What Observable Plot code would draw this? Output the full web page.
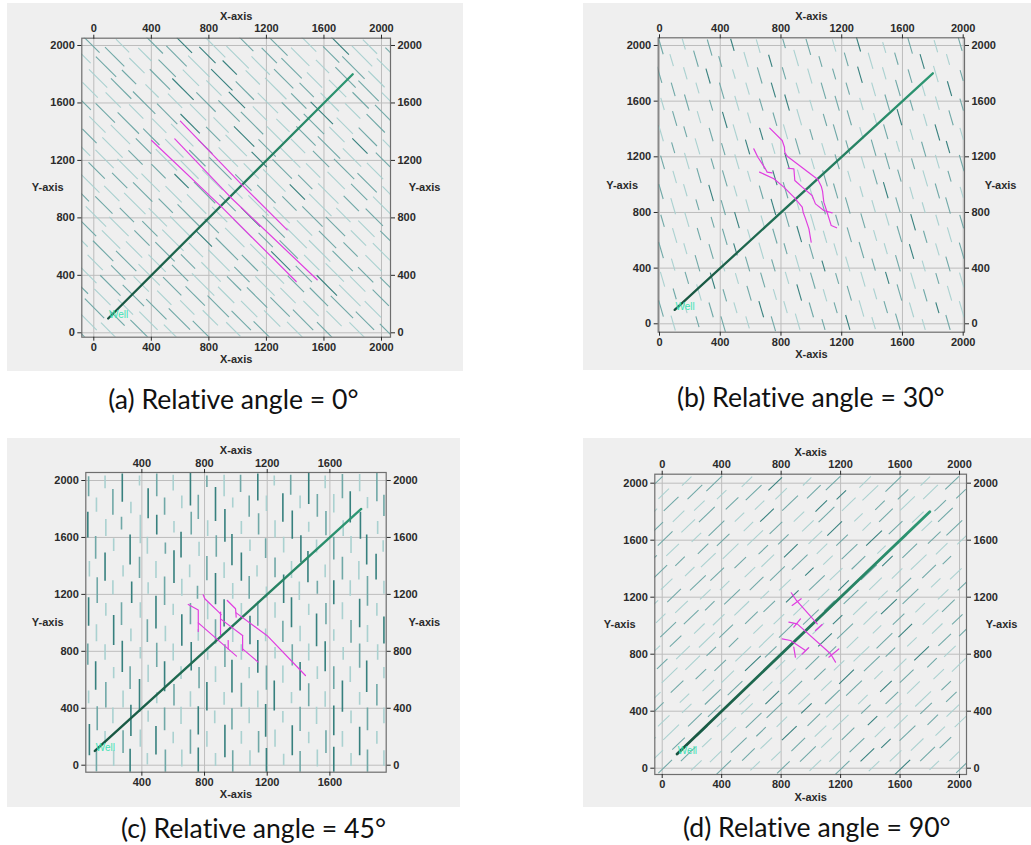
<!DOCTYPE html>
<html>
<head>
<meta charset="utf-8">
<script src="https://cdn.jsdelivr.net/npm/d3@7"></script>
<script src="https://cdn.jsdelivr.net/npm/@observablehq/plot@0.6"></script>
<style>
  html, body { margin: 0; padding: 0; background: #fff; }
  body { width: 1031px; height: 845px; position: relative; overflow: hidden; }
  .panel { position: absolute; }
  .cap {
    position: absolute; white-space: nowrap; font-family: Lato, "Open Sans", sans-serif;
    font-size: 26px; color: #111; transform-origin: 50% 50%; font-variant-ligatures: none;
  }
</style>
</head>
<body>
<script>
// ---------------------------------------------------------------------------
// Natural-fracture maps around a horizontal well, four fracture orientations.
// Each natural fracture: centre x, centre y, length, aperture class (1..3).
// ---------------------------------------------------------------------------
const TICKS = [0, 400, 800, 1200, 1600, 2000];
const TICKS_C = [400, 800, 1200, 1600];
const CAPTIONS = ["(a) Relative angle = 0°", "(b) Relative angle = 30°", "(c) Relative angle = 45°", "(d) Relative angle = 90°"];
// fracture strike (degrees from the x-axis) in each map
const STRIKES = [135, 105, 90, 45];
// well trajectory
const WELL = [[100, 100], [1800, 1800]];

const FRACTURES_A = [
  -20,2010,170,2, 200,1998,130,1, 410,2015,200,2, 630,2002,150,3, 840,1992,210,1, 1060,2010,140,2, 1280,1996,190,2, 1490,2014,160,1, 1710,2000,180,3, 1920,1992,140,1,
  -75,1930,150,1, 145,1922,190,2, 355,1938,130,1, 575,1926,200,2, 790,1934,160,3, 1000,1918,220,1, 1220,1930,150,2, 1435,1922,180,1, 1650,1938,160,2, 1865,1926,200,1, 2080,1932,150,2,
  85,1852,200,2, 300,1860,150,1, 510,1842,170,2, 730,1856,210,1, 945,1846,140,3, 1160,1860,180,1, 1375,1842,200,2, 1590,1854,130,1, 1805,1846,220,2, 2020,1858,150,1,
  30,1770,180,1, 245,1780,140,2, 460,1764,200,2, 675,1776,160,1, 890,1762,210,3, 1105,1778,140,1, 1320,1768,190,2, 1535,1760,150,1, 1750,1778,200,2, 1965,1766,160,1,
  -25,1690,150,1, 190,1700,200,2, 405,1684,130,1, 620,1696,210,3, 835,1704,150,1, 1050,1686,180,2, 1265,1700,210,1, 1480,1690,140,2, 1695,1700,170,1, 1910,1684,200,2,
  -80,1612,170,2, 135,1620,150,1, 350,1602,220,2, 565,1616,140,1, 780,1606,190,2, 995,1620,160,3, 1210,1600,200,1, 1425,1614,150,2, 1640,1606,180,1, 1855,1618,160,2, 2070,1604,190,1,
  80,1530,190,2, 295,1540,140,1, 510,1524,200,2, 725,1536,160,1, 940,1544,210,2, 1155,1526,140,1, 1370,1540,180,2, 1585,1530,220,3, 1800,1544,150,1, 2015,1526,170,2,
  25,1450,160,1, 240,1460,210,2, 455,1442,140,1, 670,1456,190,3, 885,1446,150,1, 1100,1460,220,2, 1315,1444,130,1, 1530,1454,200,2, 1745,1442,160,1, 1960,1458,180,2,
  -30,1370,140,2, 185,1380,190,1, 400,1364,160,2, 615,1376,220,1, 830,1384,140,2, 1045,1366,200,3, 1260,1380,160,1, 1475,1370,190,2, 1690,1380,150,1, 1905,1364,180,2,
  -85,1292,170,1, 130,1290,200,1, 345,1300,150,2, 560,1284,180,1, 775,1296,140,2, 990,1304,210,1, 1205,1286,170,2, 1420,1300,140,1, 1635,1290,220,2, 1850,1300,150,3, 2065,1288,160,1,
  75,1210,180,1, 290,1220,140,2, 505,1204,210,1, 720,1216,160,2, 935,1224,190,1, 1150,1206,150,3, 1365,1220,200,1, 1580,1210,160,2, 1795,1220,180,1, 2010,1204,140,2,
  20,1130,160,2, 235,1140,200,1, 450,1124,140,2, 665,1136,180,1, 880,1144,220,2, 1095,1126,150,1, 1310,1140,190,2, 1525,1130,140,1, 1740,1140,200,2, 1955,1126,160,1,
  -35,1050,210,1, 180,1060,150,2, 395,1044,180,1, 610,1056,140,3, 825,1064,200,1, 1040,1046,160,2, 1255,1060,220,1, 1470,1050,140,2, 1685,1060,170,1, 1900,1044,190,2,
  -90,972,160,2, 125,970,150,1, 340,980,190,2, 555,964,160,1, 770,976,210,2, 985,984,140,1, 1200,966,180,2, 1415,980,150,3, 1630,970,200,1, 1845,980,160,2, 2060,966,150,1,
  70,890,170,2, 285,900,210,1, 500,884,140,2, 715,896,190,1, 930,904,160,2, 1145,886,200,1, 1360,900,140,2, 1575,890,220,1, 1790,900,150,2, 2005,884,180,1,
  15,810,200,1, 230,820,140,2, 445,804,180,1, 660,816,220,2, 875,824,150,1, 1090,806,190,3, 1305,820,160,1, 1520,810,200,2, 1735,820,140,1, 1950,804,170,2,
  -40,730,160,2, 175,740,190,1, 390,724,150,2, 605,736,210,1, 820,744,140,2, 1035,726,180,1, 1250,740,220,2, 1465,730,150,1, 1680,740,190,2, 1895,724,160,1,
  -95,652,150,1, 120,650,180,1, 335,660,150,2, 550,644,210,1, 765,656,160,3, 980,664,190,1, 1195,646,140,2, 1410,660,200,1, 1625,650,170,2, 1840,660,150,1, 2055,646,180,2,
  65,570,200,2, 280,580,160,1, 495,564,190,2, 710,576,140,1, 925,584,220,2, 1140,566,150,1, 1355,580,180,2, 1570,570,210,1, 1785,580,140,2, 2000,564,170,1,
  10,490,150,1, 225,500,200,2, 440,484,170,1, 655,496,140,2, 870,504,210,1, 1085,486,160,2, 1300,500,190,3, 1515,490,150,1, 1730,500,200,2, 1945,484,160,1,
  -45,410,180,1, 170,420,140,2, 385,404,210,1, 600,416,160,2, 815,424,190,1, 1030,406,150,2, 1245,420,220,1, 1460,410,160,2, 1675,420,180,1, 1890,404,150,2,
  -100,332,170,2, 115,330,200,2, 330,340,150,1, 545,324,180,2, 760,336,220,1, 975,344,140,2, 1190,326,190,1, 1405,340,160,2, 1620,330,200,3, 1835,340,150,1, 2050,326,170,2,
  60,250,160,1, 275,260,210,2, 490,244,140,1, 705,256,190,2, 920,264,160,1, 1135,246,200,2, 1350,260,150,1, 1565,250,180,2, 1780,260,210,1, 1995,244,160,2,
  5,170,190,2, 220,180,150,1, 435,164,200,2, 650,176,140,1, 865,184,210,2, 1080,166,160,1, 1295,180,190,2, 1510,170,150,1, 1725,180,220,2, 1940,164,160,1,
  -50,90,200,1, 165,100,140,2, 380,84,180,1, 595,96,210,2, 810,104,150,1, 1025,86,190,2, 1240,100,160,1, 1455,90,200,2, 1670,100,150,1, 1885,84,180,2,
  -105,12,160,2, 110,10,170,1, 325,20,200,2, 540,4,150,1, 755,16,190,2, 970,24,140,1, 1185,6,210,2, 1400,20,160,1, 1615,10,180,2, 1830,20,150,1, 2045,6,160,2
];

const FRACTURES_B = [
  10,1990,110,2, 160,2010,80,1, 330,1985,120,2, 480,2005,90,3, 650,1995,100,1, 820,2015,70,2, 980,1990,120,2, 1150,2000,90,1, 1310,2010,110,3, 1480,1985,80,1, 1650,2000,120,2, 1820,1995,90,1, 1980,2010,100,2,
  80,1895,90,1, 240,1905,120,2, 400,1885,80,2, 570,1900,110,1, 730,1890,90,3, 900,1910,120,1, 1060,1885,80,2, 1230,1900,100,2, 1390,1890,120,1, 1560,1905,90,2, 1730,1885,110,3, 1900,1900,80,1,
  0,1790,120,2, 170,1800,90,1, 320,1780,110,3, 490,1795,70,1, 660,1785,120,2, 820,1800,90,2, 990,1780,110,1, 1150,1795,80,2, 1320,1790,120,3, 1480,1800,90,1, 1650,1780,100,2, 1820,1795,120,1, 1990,1785,80,2,
  90,1685,100,2, 250,1695,80,1, 410,1675,120,2, 580,1690,90,1, 750,1680,110,3, 910,1695,80,1, 1080,1675,120,2, 1240,1690,90,2, 1410,1685,100,1, 1570,1695,120,2, 1740,1675,80,1, 1910,1690,110,3,
  20,1580,90,1, 180,1590,120,2, 340,1570,80,2, 510,1585,110,1, 670,1575,90,2, 840,1590,120,3, 1000,1570,80,1, 1170,1585,110,2, 1330,1580,90,1, 1500,1590,120,2, 1660,1570,80,2, 1830,1585,100,1, 1990,1575,90,2,
  100,1475,110,2, 260,1485,90,1, 430,1465,120,3, 590,1480,80,1, 760,1470,100,2, 920,1485,120,1, 1090,1465,90,2, 1250,1480,110,2, 1420,1475,80,1, 1580,1485,120,3, 1750,1465,90,1, 1920,1480,110,2,
  10,1370,120,1, 170,1380,80,2, 340,1360,100,2, 500,1375,120,1, 670,1365,90,3, 830,1380,110,1, 1000,1360,80,2, 1160,1375,120,2, 1330,1370,90,1, 1490,1380,110,2, 1660,1360,80,1, 1830,1375,120,3, 1990,1365,90,1,
  90,1265,80,2, 250,1275,120,1, 420,1255,90,2, 580,1270,110,3, 750,1260,80,1, 910,1275,120,2, 1080,1255,90,1, 1240,1270,100,2, 1410,1265,120,2, 1570,1275,80,1, 1740,1255,110,2, 1900,1270,90,3,
  20,1160,100,2, 180,1170,120,1, 350,1150,80,2, 510,1165,110,1, 680,1155,90,2, 840,1170,120,3, 1010,1150,80,1, 1170,1165,110,2, 1340,1160,90,1, 1500,1170,120,2, 1670,1150,80,2, 1830,1165,100,1, 1990,1155,120,2,
  100,1055,90,1, 260,1065,110,2, 430,1045,120,2, 590,1060,80,1, 760,1050,110,3, 920,1065,90,1, 1090,1045,120,2, 1250,1060,80,1, 1420,1055,110,2, 1580,1065,90,2, 1750,1045,120,1, 1910,1060,80,2,
  10,950,110,2, 170,960,90,1, 340,940,120,3, 500,955,80,1, 670,945,100,2, 830,960,120,2, 1000,940,90,1, 1160,955,110,2, 1330,950,80,1, 1490,960,120,3, 1660,940,90,1, 1830,955,110,2, 1990,945,80,1,
  90,845,120,1, 250,855,80,2, 420,835,110,2, 580,850,90,1, 750,840,120,3, 910,855,80,1, 1080,835,100,2, 1240,850,120,2, 1410,845,90,1, 1570,855,110,2, 1740,835,80,1, 1900,850,120,2,
  20,740,90,2, 180,750,110,1, 350,730,80,2, 510,745,120,3, 680,735,90,1, 840,750,110,2, 1010,730,120,1, 1170,745,80,2, 1340,740,110,2, 1500,750,90,1, 1670,730,120,3, 1830,745,80,1, 1990,735,100,2,
  100,635,110,1, 260,645,90,2, 430,625,120,2, 590,640,80,1, 760,630,110,2, 920,645,120,3, 1090,625,90,1, 1250,640,110,2, 1420,635,80,1, 1580,645,120,2, 1750,625,90,2, 1910,640,110,1,
  10,530,120,2, 170,540,80,1, 340,520,110,2, 500,535,90,3, 670,525,120,1, 830,540,80,2, 1000,520,110,2, 1160,535,90,1, 1330,530,120,2, 1490,540,80,1, 1660,520,110,3, 1830,535,90,1, 1990,525,120,2,
  90,425,90,1, 250,435,120,2, 420,415,80,1, 580,430,110,2, 750,420,90,2, 910,435,120,1, 1080,415,80,3, 1240,430,110,1, 1410,425,90,2, 1570,435,120,2, 1740,415,80,1, 1900,430,110,2,
  20,320,110,1, 180,330,90,2, 350,310,120,3, 510,325,80,1, 680,315,110,2, 840,330,90,1, 1010,310,120,2, 1170,325,80,2, 1340,320,110,1, 1500,330,90,3, 1670,310,120,1, 1830,325,80,2, 1990,315,110,1,
  100,215,80,2, 260,225,120,1, 430,205,90,2, 590,220,110,2, 760,210,80,1, 920,225,120,3, 1090,205,90,1, 1250,220,110,2, 1420,215,80,1, 1580,225,120,2, 1750,205,90,2, 1910,220,110,1,
  10,110,120,2, 170,120,90,1, 340,100,110,2, 500,115,80,1, 670,105,120,3, 830,120,90,1, 1000,100,110,2, 1160,115,80,2, 1330,110,120,1, 1490,120,90,2, 1660,100,110,1, 1830,115,80,3, 1990,105,120,1,
  90,5,110,1, 250,15,80,2, 420,-5,120,2, 580,10,90,1, 750,0,110,2, 910,15,120,1, 1080,-5,80,2, 1240,10,110,3, 1410,5,90,1, 1570,15,120,2, 1740,-5,80,1, 1900,10,110,2
];

const FRACTURES_C = [
  60,1960,140,2, 165,1990,90,1, 275,1950,200,3, 385,2000,70,1, 495,1970,160,2, 600,1985,110,1, 710,1940,230,3, 815,1995,80,2, 925,1965,150,1, 1030,1980,120,2, 1140,1955,190,3, 1245,2000,70,1, 1350,1970,140,2, 1465,1945,220,3, 1570,1990,90,1, 1680,1960,170,2, 1790,1985,120,1, 1900,1955,200,2,
  110,1830,100,1, 215,1850,180,2, 330,1810,80,1, 440,1840,210,3, 545,1820,120,2, 655,1850,90,1, 760,1815,170,2, 870,1835,240,3, 980,1845,70,1, 1085,1820,150,2, 1195,1840,110,1, 1300,1810,200,3, 1410,1850,90,1, 1520,1825,160,2, 1625,1840,130,1, 1730,1815,220,3, 1840,1845,80,1, 1945,1825,150,2,
  55,1690,180,3, 170,1670,120,1, 270,1700,90,2, 390,1660,200,1, 495,1690,140,3, 605,1675,80,1, 715,1700,160,2, 820,1665,110,1, 930,1685,230,3, 1035,1670,90,1, 1145,1695,150,2, 1250,1660,120,1, 1360,1690,200,3, 1465,1675,70,1, 1575,1700,170,2, 1685,1665,110,1, 1795,1685,190,3, 1905,1670,90,1,
  105,1530,160,2, 220,1550,90,1, 325,1515,210,3, 435,1545,120,1, 550,1525,80,2, 650,1550,180,3, 765,1520,100,1, 875,1540,150,2, 975,1515,220,3, 1090,1545,80,1, 1190,1525,140,2, 1305,1550,110,1, 1415,1520,190,3, 1515,1540,90,1, 1625,1525,160,2, 1735,1550,120,1, 1835,1515,210,3, 1940,1540,80,1,
  65,1380,110,1, 165,1395,200,3, 280,1365,80,1, 385,1390,150,2, 490,1375,120,1, 605,1395,230,3, 705,1365,90,1, 815,1385,170,2, 925,1370,110,1, 1035,1395,200,3, 1135,1365,80,1, 1250,1390,140,2, 1355,1375,120,1, 1460,1395,220,3, 1570,1365,90,1, 1680,1385,160,2, 1785,1370,130,1, 1895,1395,180,3,
  115,1230,180,2, 215,1250,100,1, 335,1215,150,3, 440,1245,80,1, 545,1225,200,2, 655,1250,120,1, 755,1215,90,2, 870,1240,220,3, 980,1225,110,1, 1085,1250,160,2, 1195,1215,80,1, 1305,1240,200,3, 1405,1225,130,1, 1520,1250,90,2, 1625,1215,170,3, 1730,1245,110,1, 1840,1225,210,2, 1945,1250,90,1,
  60,1080,200,3, 170,1095,90,1, 270,1065,160,2, 390,1090,110,1, 490,1075,230,3, 600,1095,80,1, 710,1065,150,2, 820,1085,120,1, 925,1070,190,3, 1035,1095,90,1, 1140,1065,170,2, 1250,1090,110,1, 1355,1075,210,3, 1465,1095,80,1, 1575,1065,150,2, 1680,1085,120,1, 1790,1070,200,3, 1900,1095,90,1,
  110,930,120,1, 220,950,210,3, 330,915,90,1, 435,945,160,2, 550,925,110,1, 655,950,220,3, 760,915,80,1, 870,940,170,2, 980,925,120,1, 1090,950,200,3, 1190,915,90,1, 1300,940,150,2, 1410,925,110,1, 1515,950,230,3, 1625,915,80,1, 1735,940,160,2, 1840,925,120,1, 1945,950,190,3,
  55,780,150,2, 165,795,110,1, 275,765,220,3, 390,790,80,1, 495,775,170,2, 600,795,120,1, 715,765,200,3, 820,785,90,1, 930,770,160,2, 1035,795,110,1, 1140,765,230,3, 1250,790,80,1, 1360,775,150,2, 1465,795,120,1, 1570,765,210,3, 1685,785,90,1, 1790,770,170,2, 1905,795,110,1,
  105,630,200,3, 220,650,80,1, 325,615,160,2, 440,645,120,1, 545,625,210,3, 650,650,90,1, 765,615,150,2, 870,640,110,1, 975,625,230,3, 1085,650,80,1, 1195,615,170,2, 1300,640,120,1, 1410,625,200,3, 1520,650,90,1, 1625,615,160,2, 1730,640,110,1, 1835,625,220,3, 1945,650,80,1,
  60,480,90,1, 170,495,180,2, 280,465,120,1, 385,490,230,3, 495,475,80,1, 605,495,150,2, 710,465,110,1, 815,485,200,3, 925,470,90,1, 1035,495,170,2, 1140,465,120,1, 1245,490,210,3, 1355,475,80,1, 1465,495,160,2, 1570,465,110,1, 1680,485,220,3, 1790,470,90,1, 1900,495,150,2,
  115,330,170,2, 215,350,110,1, 330,315,220,3, 440,345,80,1, 545,325,160,2, 650,350,120,1, 760,315,200,3, 865,340,90,1, 975,325,150,2, 1085,350,110,1, 1190,315,230,3, 1300,340,80,1, 1410,325,170,2, 1515,350,120,1, 1625,315,210,3, 1735,340,90,1, 1840,325,160,2, 1945,350,110,1,
  65,180,220,3, 165,195,90,1, 280,165,160,2, 390,190,120,1, 490,175,200,3, 600,195,80,1, 710,165,170,2, 815,185,110,1, 930,170,230,3, 1035,195,90,1, 1145,165,150,2, 1250,190,120,1, 1360,175,210,3, 1465,195,80,1, 1575,165,160,2, 1680,185,110,1, 1790,170,200,3, 1900,195,90,1,
  110,30,150,2, 220,50,110,1, 325,15,200,3, 435,45,80,1, 550,25,170,2, 655,50,120,1, 760,15,220,3, 870,40,90,1, 980,25,160,2, 1090,50,110,1, 1195,15,210,3, 1305,40,80,1, 1410,25,150,2, 1520,50,120,1, 1625,15,230,3, 1735,40,90,1, 1840,25,170,2, 1945,50,110,1
];

const FRACTURES_D = [
  -40,2005,120,2, 165,2015,90,1, 350,1998,150,2, 570,2010,100,1, 760,1995,130,3, 975,2012,80,1, 1150,2000,140,2, 1365,2008,110,1, 1555,1994,150,2, 1770,2015,90,1, 1950,2002,130,2,
  10,1926,100,1, 220,1938,140,2, 400,1920,90,1, 615,1934,150,2, 800,1926,110,1, 1020,1940,130,2, 1205,1918,90,3, 1400,1932,150,1, 1620,1922,100,2, 1805,1938,140,1, 2010,1925,90,2,
  60,1855,140,2, 250,1843,100,1, 470,1858,120,2, 655,1846,90,1, 860,1860,150,2, 1070,1840,110,3, 1255,1852,130,1, 1465,1845,90,2, 1650,1858,140,1, 1870,1842,110,2,
  -80,1775,130,1, 110,1768,110,1, 300,1780,150,2, 520,1762,90,1, 705,1776,130,3, 920,1765,100,1, 1105,1780,150,2, 1320,1760,80,1, 1505,1775,130,2, 1720,1762,110,1, 1905,1778,140,2,
  -30,1692,100,2, 175,1700,130,1, 365,1684,150,2, 580,1696,90,1, 765,1686,120,2, 980,1700,110,1, 1160,1682,140,3, 1375,1696,80,1, 1570,1688,130,2, 1780,1700,100,1, 1965,1686,150,2,
  20,1612,140,2, 230,1620,90,1, 410,1602,120,2, 625,1616,150,1, 815,1606,100,2, 1030,1620,130,1, 1210,1600,110,2, 1425,1614,150,3, 1615,1604,90,1, 1830,1618,120,2, 2020,1606,100,1,
  70,1532,120,1, 275,1540,100,2, 460,1522,150,1, 680,1534,90,2, 865,1526,130,3, 1075,1540,100,1, 1260,1520,150,2, 1475,1534,80,1, 1665,1526,140,2, 1880,1540,110,1,
  -75,1455,110,2, 120,1452,90,2, 310,1460,140,1, 525,1442,110,2, 710,1456,120,1, 925,1446,150,2, 1115,1460,90,1, 1320,1442,130,2, 1515,1454,100,3, 1725,1446,150,1, 1915,1460,80,2,
  -20,1372,150,2, 185,1380,90,1, 370,1362,130,2, 590,1376,100,1, 775,1366,140,2, 990,1380,80,3, 1170,1362,120,1, 1390,1374,150,2, 1580,1366,100,1, 1795,1380,130,2, 1975,1364,110,1,
  30,1292,110,1, 240,1300,150,2, 420,1282,90,1, 635,1296,130,2, 825,1286,110,1, 1040,1300,150,2, 1220,1282,100,3, 1435,1294,120,1, 1625,1286,140,2, 1840,1300,90,1, 2030,1290,120,2,
  80,1212,130,2, 290,1220,100,1, 470,1202,150,2, 690,1216,80,1, 875,1206,120,3, 1085,1220,110,1, 1270,1202,140,2, 1485,1214,90,1, 1670,1206,150,2, 1890,1220,100,1,
  -70,1135,120,1, 130,1132,120,1, 320,1140,90,2, 535,1122,140,1, 720,1136,110,2, 935,1126,150,1, 1125,1140,100,2, 1330,1122,130,1, 1525,1134,150,3, 1735,1126,90,1, 1925,1140,120,2,
  -10,1052,90,1, 195,1060,140,2, 380,1042,110,1, 600,1056,120,2, 785,1046,100,1, 1000,1060,150,2, 1180,1042,90,3, 1400,1054,130,1, 1590,1046,110,2, 1805,1060,150,1, 1985,1044,100,2,
  40,972,150,2, 250,980,100,1, 430,962,130,2, 645,976,90,1, 835,966,140,2, 1050,980,110,1, 1230,962,150,2, 1445,974,80,1, 1635,966,130,3, 1850,980,100,1, 2040,970,120,2,
  90,892,110,2, 300,900,150,1, 480,882,90,2, 700,896,140,1, 885,886,100,2, 1095,900,130,3, 1280,882,110,1, 1495,894,150,2, 1680,886,90,1, 1900,900,120,2,
  -60,815,130,1, 140,812,130,1, 330,820,90,2, 545,802,150,1, 730,816,110,2, 945,806,120,1, 1135,820,100,2, 1340,802,150,1, 1535,814,90,2, 1745,806,140,3, 1935,820,110,1,
  0,732,100,2, 205,740,140,1, 390,722,110,2, 610,736,150,3, 795,726,90,1, 1010,740,130,2, 1190,722,100,1, 1410,734,150,2, 1600,726,120,1, 1815,740,90,2, 1995,724,130,1,
  50,652,150,1, 260,660,100,2, 440,642,120,1, 655,656,90,2, 845,646,150,1, 1060,660,110,2, 1240,642,140,3, 1455,654,80,1, 1645,646,130,2, 1860,660,100,1,
  100,572,120,2, 310,580,110,1, 490,562,140,2, 710,576,90,1, 895,566,130,2, 1105,580,100,1, 1290,562,150,2, 1505,574,110,3, 1690,566,120,1, 1910,580,90,2,
  -50,495,110,1, 150,492,90,1, 340,500,150,2, 555,482,100,1, 740,496,130,3, 955,486,110,1, 1145,500,140,2, 1350,482,90,1, 1545,494,120,2, 1755,486,150,1, 1945,500,100,2,
  -40,412,140,2, 165,420,90,1, 350,402,120,2, 570,416,110,1, 755,406,150,2, 970,420,100,3, 1150,402,130,1, 1370,414,90,2, 1560,406,140,1, 1775,420,110,2, 1955,404,120,1,
  10,332,110,1, 220,340,130,2, 400,322,90,1, 615,336,150,2, 805,326,100,1, 1020,340,120,2, 1200,322,150,1, 1415,334,90,3, 1605,326,130,1, 1820,340,100,2, 2010,330,120,1,
  60,252,150,1, 270,260,100,2, 450,242,130,1, 665,256,90,2, 855,246,140,3, 1065,260,110,1, 1250,242,120,2, 1465,254,100,1, 1650,246,150,2, 1870,260,90,1,
  -85,175,120,1, 110,172,120,2, 300,180,90,1, 515,162,150,2, 700,176,110,1, 915,166,130,2, 1105,180,100,1, 1310,162,140,2, 1505,174,90,3, 1715,166,120,1, 1905,180,110,2,
  -30,92,100,1, 175,100,140,2, 360,82,110,1, 580,96,120,2, 765,86,90,1, 980,100,150,2, 1160,82,100,1, 1380,94,130,3, 1570,86,110,1, 1785,100,140,2, 1965,84,90,1,
  20,12,130,2, 230,20,100,1, 410,2,150,2, 625,16,90,1, 815,6,120,2, 1030,20,110,1, 1210,2,140,2, 1425,14,100,1, 1615,6,150,3, 1830,20,90,1, 2020,10,120,2
];

// Hydraulic-fracture traces (polylines of [x, y])
const HF_A = [
  [[602, 1473], [1020, 1040], [1344, 717]],
  [[402, 1339], [881, 884], [1407, 357]],
  [[563, 1350], [950, 944], [1553, 369]]
];
const HF_B = [
  [[726, 1406], [808, 1317], [823, 1269], [825, 1233], [841, 1204], [1043, 1037], [1065, 989], [1074, 951], [1082, 874], [1100, 814], [1131, 706], [1166, 690]],
  [[847, 1118], [885, 1114], [891, 1030], [940, 982], [1005, 922], [1027, 862], [1082, 814], [1137, 797]],
  [[621, 1257], [648, 1197], [698, 1113], [709, 1090], [742, 1085]],
  [[659, 1090], [753, 1042], [819, 982], [885, 910], [940, 838], [946, 802], [962, 754], [984, 682], [999, 586]]
];
const HF_C = [
  [[696, 1129], [760, 1090], [760, 940]],
  [[760, 1000], [1004, 766]],
  [[791, 1197], [802, 1169], [891, 1075], [906, 1058]],
  [[902, 1075], [902, 917]],
  [[902, 1028], [1043, 911]],
  [[1043, 911], [1043, 806]],
  [[1043, 817], [1142, 724]],
  [[951, 876], [951, 817]],
  [[945, 1157], [998, 1099], [1002, 1040]],
  [[1002, 1070], [1200, 910], [1444, 630]]
];
const HF_D = [
  [[868, 1231], [903, 1177], [1043, 1013]],
  [[852, 1025], [908, 1013], [1132, 803], [1166, 744]],
  [[807, 908], [863, 896], [964, 826]],
  [[874, 1142], [935, 1189]],
  [[1031, 966], [1076, 1008]],
  [[885, 990], [930, 1048]],
  [[1121, 779], [1188, 837]],
  [[885, 850], [896, 779]],
  [[940, 800], [985, 845]]
];

// ---------------------------------------------------------------------------
function fractureLinks(flat, strike) {
  const t = strike * Math.PI / 180, ux = Math.cos(t), uy = Math.sin(t);
  const out = [];
  for (let i = 0; i < flat.length; i += 4) {
    const x = flat[i], y = flat[i + 1], h = flat[i + 2] / 2, ap = flat[i + 3];
    out.push({x1: x - ux * h, y1: y - uy * h, x2: x + ux * h, y2: y + uy * h, ap});
  }
  return out;
}
function traceRows(paths) {
  return paths.flatMap((p, id) => p.map(([x, y]) => ({x, y, id})));
}

// page layout of the four maps
const LAYOUT = [
  {id: "a", left: 7, top: 3, width: 456, height: 368, ml: 74.3, mr: 73, mt: 34.7, mb: 34.3,
   xd: [-83.4, 2062.6], yd: [-30.6, 2050.8], xt: TICKS, yOff: 50, capX: 233, capY: 399, sw: 1.1, ww: 2.3},
  {id: "b", left: 583, top: 3, width: 448, height: 367, ml: 74.7, mr: 67, mt: 34.3, mb: 38.3,
   xd: [-8.6, 2008.6], yd: [-60.4, 2055.3], xt: TICKS, yOff: 52, capX: 811, capY: 397, sw: 1.1, ww: 2.3},
  {id: "c", left: 7, top: 438, width: 453, height: 369, ml: 78.3, mr: 74.3, mt: 34, mb: 35.3,
   xd: [42.1, 1959.5], yd: [-49.2, 2056.3], xt: TICKS_C, yOff: 54, capX: 253, capY: 828, sw: 1.6, ww: 2.4},
  {id: "d", left: 583, top: 438, width: 448, height: 369, ml: 71.3, mr: 65, mt: 35.7, mb: 33,
   xd: [-49.8, 2046.9], yd: [-44.2, 2063], xt: TICKS, yOff: 51, capX: 817, capY: 827, sw: 1.05, ww: 2.8}
];
const FRACTURES = [FRACTURES_A, FRACTURES_B, FRACTURES_C, FRACTURES_D];
const TRACES = [HF_A, HF_B, HF_C, HF_D];

const axisFont = "'Liberation Sans', Arial, sans-serif";
const plain = (d) => String(d);
const capEls = [];

LAYOUT.forEach((L, k) => {
  const segs = fractureLinks(FRACTURES[k], STRIKES[k]);
  const wellRows = WELL.map(([x, y]) => ({x, y}));
  const fig = Plot.plot({
    width: L.width, height: L.height,
    marginLeft: L.ml, marginRight: L.mr, marginTop: L.mt, marginBottom: L.mb,
    style: {background: "#efefef", fontFamily: axisFont, fontSize: "11px", fontWeight: "bold", color: "#2a2a2a", overflow: "visible"},
    x: {domain: L.xd},
    y: {domain: L.yd},
    color: {domain: [1, 2, 3], range: ["#aad1d0", "#70a8a7", "#37807e"]},
    marks: [
      Plot.gridX(L.xt, {stroke: "#bdbdbd", strokeOpacity: 1}),
      Plot.gridY(TICKS, {stroke: "#bdbdbd", strokeOpacity: 1}),
      Plot.link(segs, {x1: "x1", y1: "y1", x2: "x2", y2: "y2", stroke: "ap", strokeWidth: L.sw, clip: true}),
      Plot.line(wellRows, {x: "x", y: "y", stroke: `url(#well-${L.id})`, strokeWidth: L.ww}),
      Plot.line(traceRows(TRACES[k]), {x: "x", y: "y", z: "id", stroke: "#e03ee0", strokeWidth: 1.2, clip: true}),
      Plot.text([{x: 105, y: 125, t: "Well"}], {x: "x", y: "y", text: "t", textAnchor: "start", fill: "#3fe3b6", fontSize: 10, fontWeight: "normal"}),
      Plot.frame({stroke: "#6e6e6e", strokeWidth: 1.2}),
      Plot.axisX(L.xt, {anchor: "top", tickSize: 4, tickPadding: 2, tickFormat: plain, label: null}),
      Plot.axisX(L.xt, {anchor: "bottom", tickSize: 4, tickPadding: 2, tickFormat: plain, label: null}),
      Plot.axisY(TICKS, {anchor: "left", tickSize: 4, tickPadding: 3, tickFormat: plain, label: null}),
      Plot.axisY(TICKS, {anchor: "right", tickSize: 4, tickPadding: 3, tickFormat: plain, label: null}),
      Plot.text(["X-axis"], {frameAnchor: "top", dy: -26}),
      Plot.text(["X-axis"], {frameAnchor: "bottom", dy: 26}),
      Plot.text(["Y-axis"], {frameAnchor: "left", dx: -L.yOff}),
      Plot.text(["Y-axis"], {frameAnchor: "right", dx: L.yOff})
    ]
  });
  // colour ramp along the well, darker at the heel
  const ns = "http://www.w3.org/2000/svg";
  const defs = document.createElementNS(ns, "defs");
  defs.innerHTML = `<linearGradient id="well-${L.id}" x1="0" y1="1" x2="1" y2="0">
      <stop offset="0" stop-color="#17533f"/><stop offset="1" stop-color="#2e9874"/></linearGradient>`;
  fig.insertBefore(defs, fig.firstChild);

  const holder = document.createElement("div");
  holder.className = "panel";
  holder.style.left = L.left + "px";
  holder.style.top = L.top + "px";
  holder.appendChild(fig);
  document.body.appendChild(holder);

  const cap = document.createElement("div");
  cap.className = "cap";
  cap.textContent = CAPTIONS[k];
  document.body.appendChild(cap);
  capEls.push([cap, L]);
});

// captions: narrow the face to the width of the printed captions
const refWidth = capEls[2][0].getBoundingClientRect().width;
const sx = 265 / refWidth;
capEls.forEach(([cap, L]) => {
  const r = cap.getBoundingClientRect();
  cap.style.left = (L.capX - r.width / 2) + "px";
  cap.style.top = (L.capY - r.height / 2) + "px";
  cap.style.transform = `scaleX(${sx})`;
});
</script>
</body>
</html>
